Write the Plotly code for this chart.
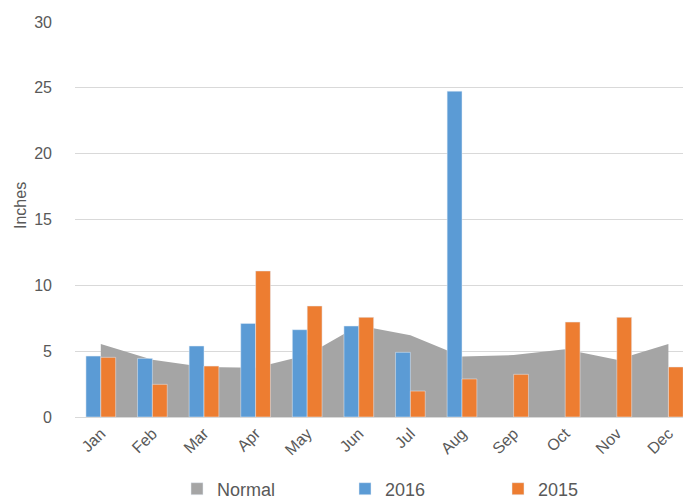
import plotly.graph_objects as go

months = ["Jan", "Feb", "Mar", "Apr", "May", "Jun",
          "Jul", "Aug", "Sep", "Oct", "Nov", "Dec"]
normal = [5.55, 4.35, 3.8, 3.75, 4.7, 6.95, 6.2, 4.6, 4.7, 5.15, 4.35, 5.55]
rain_2016 = [4.63, 4.45, 5.39, 7.11, 6.63, 6.91, 4.91, 24.75, None, None, None, None]
rain_2015 = [4.53, 2.48, 3.87, 11.09, 8.43, 7.57, 1.97, 2.89, 3.24, 7.21, 7.57, 3.8]
y_ticks = [0, 5, 10, 15, 20, 25, 30]

GRAY = "#A5A5A5"
BLUE = "#5B9BD5"
ORANGE = "#ED7D31"
TEXT = "#595959"
FONT = "Liberation Sans, Arial, sans-serif"

W, H = 683, 500
L, T, PW, PH = 75, 22, 608, 395
x_range = [-0.5, -0.5 + PW / 51.6]


def px_x(px):
    return (px - L) / PW


def px_y(py):
    return (T + PH - py) / PH


fig = go.Figure()

# Normal precipitation as a shaded area behind the columns
fig.add_trace(go.Scatter(
    x=months, y=normal, mode="none", fill="tozeroy", fillcolor=GRAY,
    showlegend=False, hoverinfo="skip", xaxis="x", yaxis="y",
))
# Legend entry for the area, drawn as a square swatch
fig.add_trace(go.Bar(
    x=[None], y=[None], name="Normal", marker_color=GRAY,
    xaxis="x", yaxis="y", showlegend=True, legend="legend",
))

# Monthly columns live on an overlaid axis pair so they sit above the area
fig.add_trace(go.Bar(x=months, y=rain_2016, name="2016", marker_color=BLUE,
                     xaxis="x2", yaxis="y2", legend="legend2"))
fig.add_trace(go.Bar(x=months, y=rain_2015, name="2015", marker_color=ORANGE,
                     xaxis="x2", yaxis="y2", legend="legend3"))

legend_common = dict(
    orientation="h", xref="container", yref="container",
    xanchor="left", yanchor="middle", y=(H - 489) / H,
    font=dict(size=18, color=TEXT), itemclick=False, itemdoubleclick=False,
    bgcolor="rgba(0,0,0,0)", borderwidth=0,
)

fig.update_layout(
    width=W, height=H,
    margin=dict(l=L, r=W - L - PW, t=T, b=H - T - PH, autoexpand=False),
    paper_bgcolor="white", plot_bgcolor="white",
    font=dict(family=FONT, color=TEXT, size=16),
    barmode="group", bargap=0.424, bargroupgap=0,
    xaxis=dict(
        type="category", categoryorder="array", categoryarray=months,
        range=x_range, tickangle=-45, showgrid=False, zeroline=False,
        showline=True, linecolor="#D9D9D9", linewidth=1, automargin=False,
        ticks="", tickfont=dict(size=16, color=TEXT),
    ),
    yaxis=dict(
        range=[0, 30], tickvals=y_ticks, showgrid=True, gridcolor="#D9D9D9",
        gridwidth=1, zeroline=False, showline=False, ticks="", automargin=False,
        tickfont=dict(size=16, color=TEXT), ticklabelstandoff=22,
    ),
    xaxis2=dict(
        type="category", categoryorder="array", categoryarray=months,
        range=x_range, overlaying="x", visible=False,
    ),
    yaxis2=dict(range=[0, 30], overlaying="y", visible=False),
    legend=dict(x=(219 - 42) / W, **legend_common),
    legend2=dict(x=(387 - 42) / W, **legend_common),
    legend3=dict(x=(540 - 42) / W, **legend_common),
    annotations=[dict(
        text="Inches", textangle=-90, xref="paper", yref="paper",
        x=px_x(20), y=px_y(206), showarrow=False,
        font=dict(size=16, color=TEXT), xanchor="center", yanchor="middle",
    )],
)

fig.write_html("out.html")
